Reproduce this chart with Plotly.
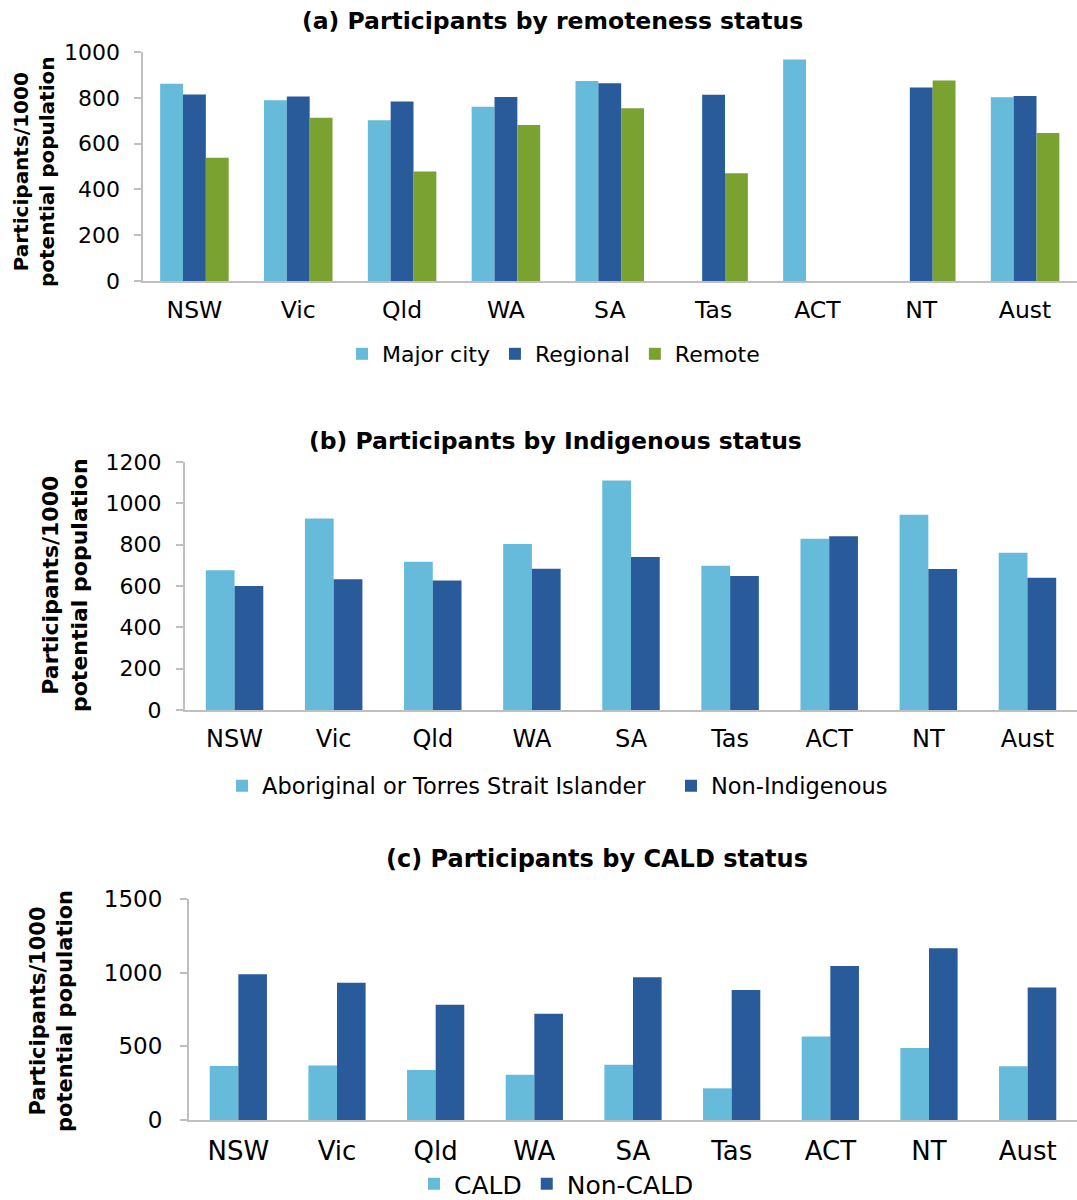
import plotly.graph_objects as go

# ---------------- data ----------------
states = ["NSW", "Vic", "Qld", "WA", "SA", "Tas", "ACT", "NT", "Aust"]

# (a) remoteness
major_city = [861, 789, 702, 761, 873, None, 967, None, 802]
regional = [814, 806, 784, 803, 863, 813, None, 845, 808]
remote = [538, 713, 478, 681, 754, 470, None, 876, 646]

# (b) Indigenous status
indigenous = [676, 927, 717, 803, 1110, 698, 829, 945, 761]
non_indigenous = [600, 633, 627, 683, 740, 648, 841, 682, 640]

# (c) CALD status
cald = [366, 370, 339, 307, 375, 215, 567, 488, 364]
non_cald = [990, 931, 782, 721, 969, 883, 1046, 1166, 899]

titles = ["(a) Participants by remoteness status",
          "(b) Participants by Indigenous status",
          "(c) Participants by CALD status"]
ytitle = "Participants/1000<br>potential population"

# ---------------- style ----------------
W, H = 1077, 1200
FONT = "DejaVu Sans"
LIGHT = "#66BBDA"
DARK = "#295B9B"
GREEN = "#79A230"
AXIS = "#BFBFBF"


def px_x(p):
    return p / W


def px_y(p):
    return 1 - p / H


fig = go.Figure()

# panel a
wa = 0.22
for name, vals, col, off in [("Major city", major_city, LIGHT, -0.33),
                             ("Regional", regional, DARK, -0.11),
                             ("Remote", remote, GREEN, 0.11)]:
    fig.add_trace(go.Bar(x=states, y=vals, name=name, marker=dict(color=col, line=dict(width=0)),
                         width=wa, offset=off, xaxis="x", yaxis="y", legend="legend"))

# panel b
wb = 0.29
for name, vals, col, off in [("Aboriginal or Torres Strait Islander", indigenous, LIGHT, -0.29),
                             ("Non-Indigenous", non_indigenous, DARK, 0.0)]:
    fig.add_trace(go.Bar(x=states, y=vals, name=name, marker=dict(color=col, line=dict(width=0)),
                         width=wb, offset=off, xaxis="x2", yaxis="y2", legend="legend2"))

# panel c
for name, vals, col, off in [("CALD", cald, LIGHT, -0.29),
                             ("Non-CALD", non_cald, DARK, 0.0)]:
    fig.add_trace(go.Bar(x=states, y=vals, name=name, marker=dict(color=col, line=dict(width=0)),
                         width=wb, offset=off, xaxis="x3", yaxis="y3", legend="legend3"))


def xaxis(domain, anchor, size, standoff):
    return dict(domain=domain, anchor=anchor, type="category", showgrid=False,
                showline=True, linecolor=AXIS, linewidth=2, ticks="",
                tickfont=dict(family=FONT, size=size, color="#000000"),
                ticklabelstandoff=standoff, zeroline=False, automargin=False)


def yaxis(domain, anchor, rng, dtick, size, standoff):
    return dict(domain=domain, anchor=anchor, range=rng, dtick=dtick, showgrid=False,
                showline=True, linecolor=AXIS, linewidth=2, ticks="outside", ticklen=7,
                tickwidth=2, tickcolor=AXIS,
                tickfont=dict(family=FONT, size=size, color="#000000"),
                ticklabelstandoff=standoff, zeroline=False, automargin=False)


def legend(xl, yc, size, entrywidth=None):
    d = dict(orientation="h", xref="container", yref="container",
             x=px_x(xl), y=px_y(yc), xanchor="left", yanchor="middle",
             font=dict(family=FONT, size=size, color="#000000"), bgcolor="rgba(0,0,0,0)")
    if entrywidth:
        d["entrywidth"] = entrywidth
        d["entrywidthmode"] = "pixels"
    return d


fig.update_layout(
    width=W, height=H, margin=dict(l=0, r=0, t=0, b=0, autoexpand=False),
    paper_bgcolor="white", plot_bgcolor="white",
    barmode="overlay",
    font=dict(family=FONT, color="#000000"),
    xaxis=xaxis([px_x(142.5), 1.0], "y", 23.5, 7),
    yaxis=yaxis([px_y(281), px_y(52)], "x", [0, 1000], 200, 22, 9),
    xaxis2=xaxis([px_x(185), 1.0], "y2", 24, 6),
    yaxis2=yaxis([px_y(710), px_y(462)], "x2", [0, 1200], 200, 22, 10),
    xaxis3=xaxis([px_x(189), 1.0], "y3", 26, 7),
    yaxis3=yaxis([px_y(1120), px_y(899)], "x3", [0, 1500], 500, 23, 13),
    legend=legend(342, 354, 22),
    legend2=legend(222, 786, 22.5, 404),
    legend3=legend(414, 1184, 25),
    showlegend=True,
)

# panel titles
for t, cx, cy, sz in zip(titles, [553, 555, 597], [21, 441, 859], [23.5, 23.5, 24]):
    fig.add_annotation(text="<b>%s</b>" % t, x=px_x(cx), y=px_y(cy), xref="paper", yref="paper",
                       xanchor="center", yanchor="middle", showarrow=False,
                       font=dict(family=FONT, size=sz, color="#000000"))

# y-axis titles
for cx, cy, sz in [(34, 172, 20), (65, 585, 22), (51, 1011, 21)]:
    fig.add_annotation(text="<b>%s</b>" % ytitle, x=px_x(cx), y=px_y(cy), xref="paper", yref="paper",
                       xanchor="center", yanchor="middle", showarrow=False, textangle=-90,
                       font=dict(family=FONT, size=sz, color="#000000"))

fig.write_html("out.html", config={"displayModeBar": False},
               post_script="document.body.style.margin='0';")
